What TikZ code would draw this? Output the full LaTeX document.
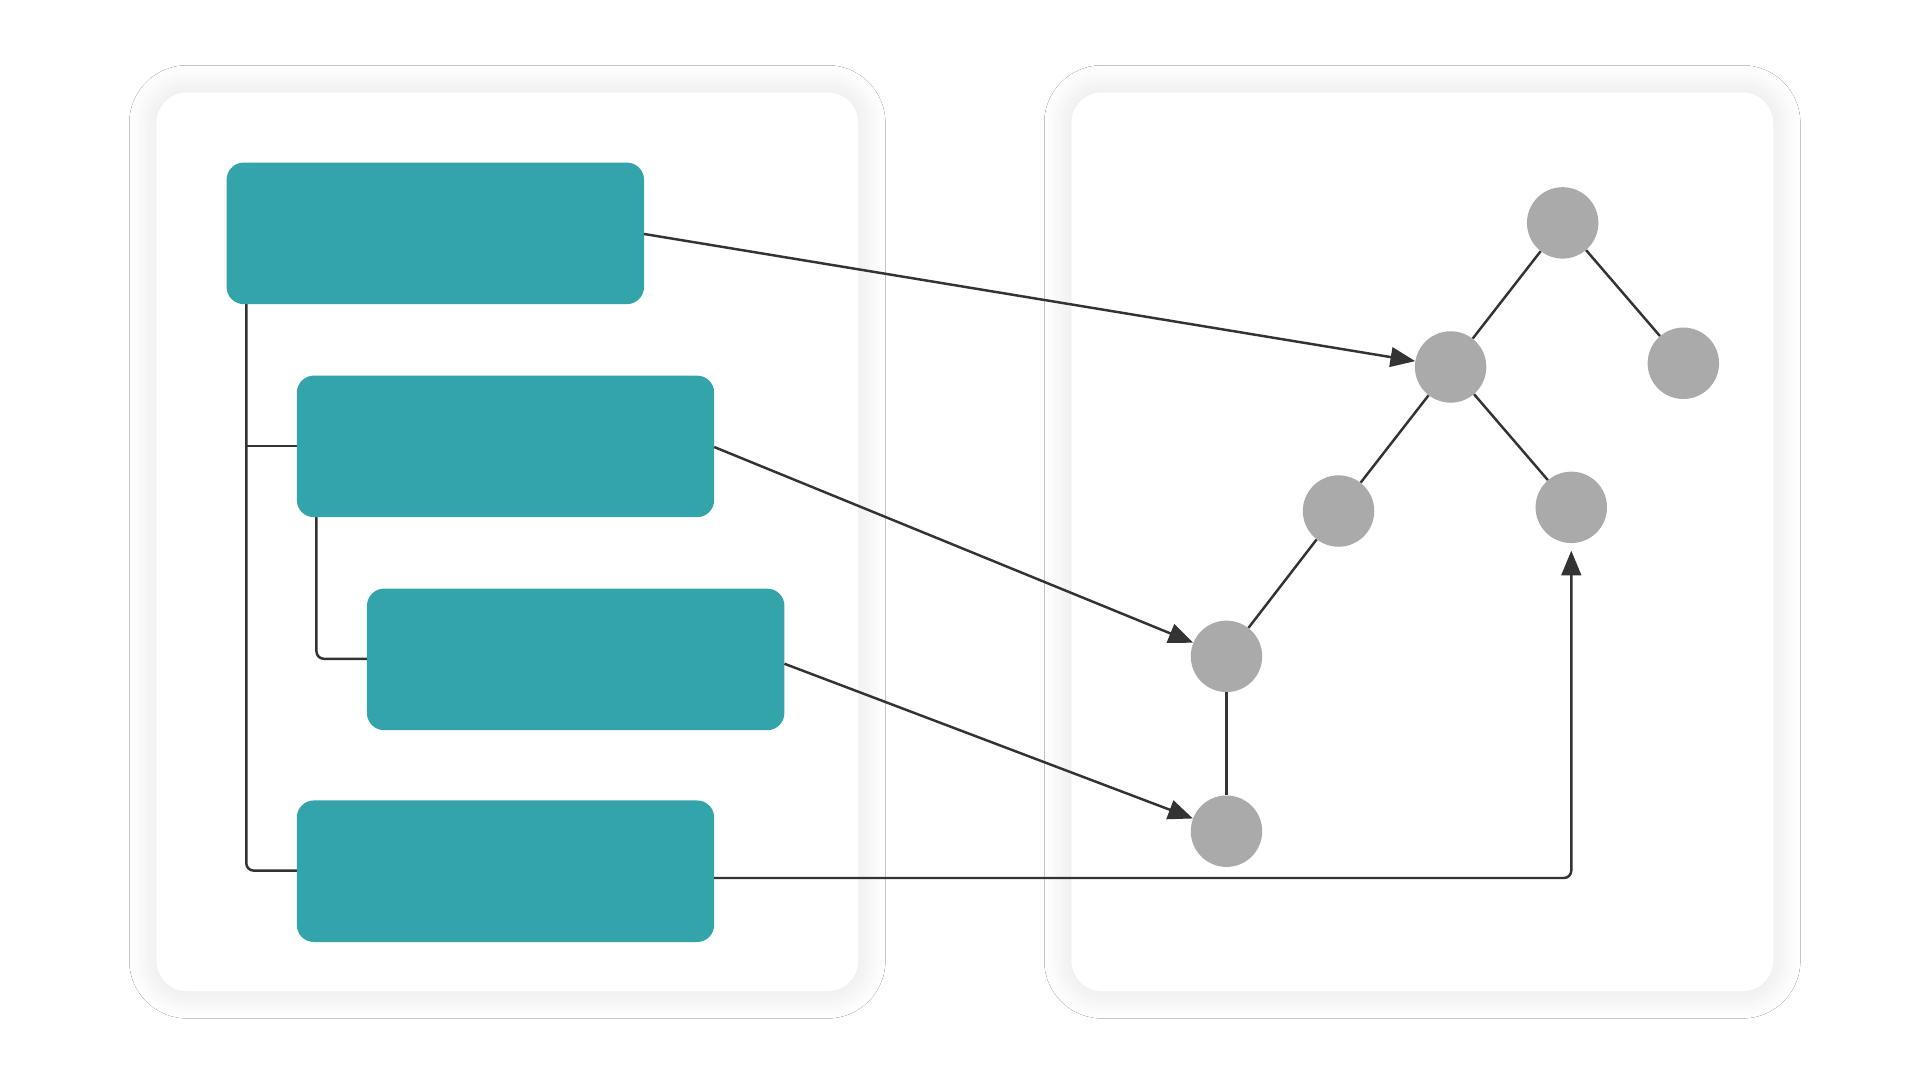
\documentclass[tikz,border=0pt]{standalone}
\usetikzlibrary{arrows.meta,shadows.blur}
\definecolor{teal1}{HTML}{33A4AA}
\definecolor{grayc}{HTML}{AAAAAA}
\definecolor{ln}{HTML}{333333}
\begin{document}
\begin{tikzpicture}[x=1pt,y=-1pt,
  panel/.style={fill=white,rounded corners=25pt,blur shadow={shadow xshift=0pt,shadow yshift=0pt,shadow blur radius=22pt,shadow opacity=12,shadow blur steps=12}},
  tbox/.style={fill=teal1,rounded corners=14pt},
  cnode/.style={circle,fill=grayc,minimum size=58pt,inner sep=0pt},
  conn/.style={draw=ln,line width=2pt},
  arr/.style={conn,-{Triangle[length=20pt,width=16pt]}}]
\useasboundingbox (0,0) rectangle (1560,878);
\fill[white] (0,0) rectangle (1560,878);
\path[panel] (127,75) rectangle (697,805);
\path[panel] (870,75) rectangle (1440,805);
\draw[conn,rounded corners=6pt] (200,247) -- (200,707) -- (241,707);
\draw[conn] (200,362) -- (241,362);
\draw[conn,rounded corners=6pt] (257,420) -- (257,535) -- (298,535);
\path[tbox] (184,132) rectangle (523,247) node[pos=0.5,inner sep=0,minimum size=0] (b1) {};
\path[tbox] (241,305) rectangle (580,420);
\path[tbox] (298,478) rectangle (637,593);
\path[tbox] (241,650) rectangle (580,765);
\coordinate (b1e) at (523,190);
\coordinate (b2e) at (580,363);
\coordinate (b3e) at (637,539);
\coordinate (b4e) at (580,713);
\node[cnode] (A) at (1269,181) {};
\node[cnode] (B) at (1178,298) {};
\node[cnode] (C) at (1367,295) {};
\node[cnode] (D) at (1087,415) {};
\node[cnode] (E) at (1276,412) {};
\node[cnode] (F) at (996,533) {};
\node[cnode] (G) at (996,675) {};
\draw[conn] (A) -- (B);
\draw[conn] (A) -- (C);
\draw[conn] (B) -- (D);
\draw[conn] (B) -- (E);
\draw[conn] (D) -- (F);
\draw[conn] (F) -- (G);
\draw[arr] (b1e) -- (B);
\draw[arr] (b2e) -- (F);
\draw[arr] (b3e) -- (G);
\draw[arr,rounded corners=6pt,shorten >=6pt] (b4e) -- (1276,713) -- (E);
\end{tikzpicture}
\end{document}
